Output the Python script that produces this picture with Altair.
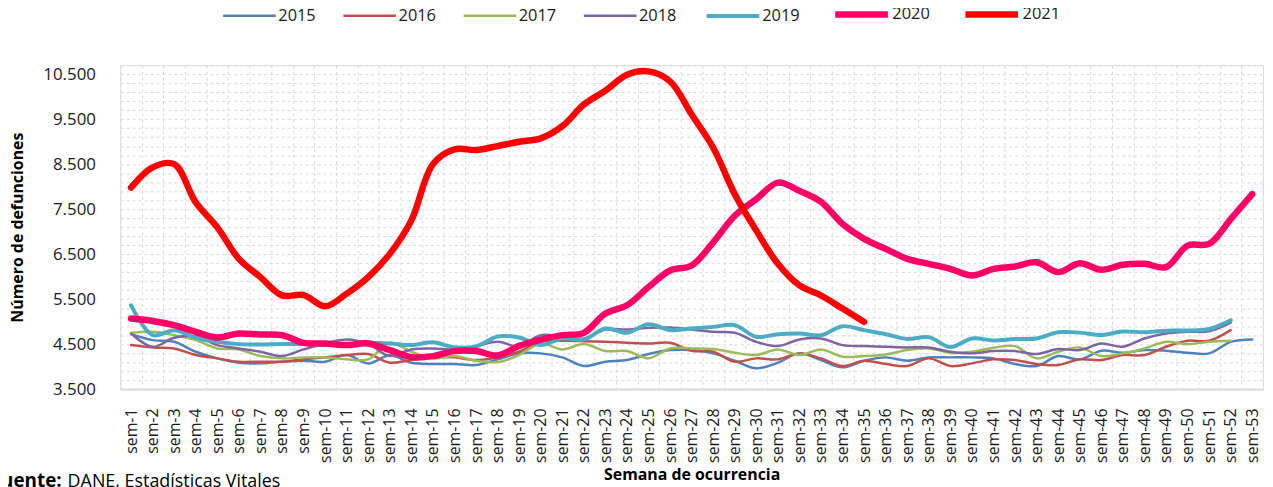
import altair as alt
import pandas as pd

weeks = [f"sem-{i}" for i in range(1, 54)]
years = ["2015", "2016", "2017", "2018", "2019", "2020", "2021"]
colors = ["#4F81BD", "#C0504D", "#9BBB59", "#8064A2", "#4BACC6", "#FF0066", "#FF0000"]
widths = [2.5, 2.5, 2.5, 2.5, 4, 6.5, 6.5]

v2015 = [4721, 4588, 4551, 4330, 4183, 4087, 4072, 4109, 4131, 4109,
         4257, 4070, 4250, 4087, 4058, 4058, 4035, 4160, 4294, 4294,
         4205, 4013, 4109, 4146, 4279, 4367, 4367, 4294, 4131, 3961,
         4087, 4294, 4146, 3984, 4131, 4205, 4131, 4205, 4205, 4205,
         4183, 4058, 4013, 4234, 4161, 4352, 4308, 4367, 4352, 4308,
         4294, 4551, 4603]
v2016 = [4478, 4426, 4404, 4257, 4183, 4109, 4109, 4109, 4161, 4205,
         4257, 4279, 4087, 4146, 4205, 4205, 4146, 4210, 4330, 4551,
         4574, 4566, 4551, 4530, 4515, 4530, 4352, 4330, 4109, 4183,
         4161, 4294, 4183, 4013, 4131, 4058, 4013, 4183, 4013, 4072,
         4161, 4146, 4058, 4035, 4161, 4146, 4257, 4257, 4441, 4574,
         4574, 4810]
v2017 = [4750, 4773, 4699, 4588, 4404, 4382, 4234, 4183, 4205, 4205,
         4161, 4161, 4530, 4330, 4183, 4234, 4131, 4100, 4257, 4515,
         4382, 4500, 4345, 4345, 4183, 4404, 4404, 4390, 4308, 4257,
         4382, 4257, 4382, 4220, 4234, 4270, 4367, 4404, 4308, 4330,
         4419, 4456, 4183, 4330, 4426, 4234, 4294, 4404, 4551, 4500,
         4551, 4574]
v2018 = [4736, 4441, 4640, 4677, 4478, 4404, 4330, 4234, 4382, 4515,
         4603, 4500, 4234, 4382, 4404, 4382, 4456, 4551, 4450, 4700,
         4662, 4625, 4824, 4824, 4861, 4868, 4824, 4773, 4751, 4551,
         4456, 4603, 4625, 4478, 4456, 4441, 4426, 4426, 4330, 4294,
         4345, 4345, 4279, 4390, 4367, 4515, 4441, 4625, 4736, 4773,
         4787, 4979]
v2019 = [5362, 4699, 4810, 4640, 4551, 4500, 4490, 4500, 4500, 4478,
         4500, 4530, 4515, 4478, 4540, 4430, 4450, 4670, 4647, 4478,
         4625, 4603, 4847, 4751, 4942, 4810, 4847, 4883, 4920, 4662,
         4721, 4736, 4699, 4898, 4810, 4720, 4614, 4655, 4434, 4625,
         4580, 4614, 4625, 4762, 4755, 4703, 4780, 4762, 4799, 4802,
         4836, 5031]
v2020 = [5068, 5015, 4920, 4772, 4648, 4736, 4714, 4699, 4529, 4515,
         4478, 4515, 4367, 4210, 4234, 4345, 4345, 4250, 4460, 4600,
         4700, 4750, 5179, 5362, 5768, 6137, 6248, 6763, 7353, 7722,
         8090, 7906, 7660, 7170, 6838, 6617, 6395, 6285, 6174, 6026,
         6174, 6225, 6320, 6100, 6298, 6152, 6263, 6285, 6210, 6690,
         6727, 7280, 7833]
v2021 = [7979, 8430, 8500, 7648, 7095, 6395, 5989, 5584, 5590, 5340,
         5621, 5989, 6506, 7250, 8500, 8829, 8813, 8902, 8997, 9072,
         9344, 9824, 10134, 10488, 10561, 10340, 9603, 8864, 7833, 7022,
         6285, 5805, 5580, 5289, 4994]

x_title = "Semana de ocurrencia"
y_title = "Número de defunciones"
source_label = "Fuente:"
source_text = "DANE, Estadísticas Vitales"

series = dict(zip(years, [v2015, v2016, v2017, v2018, v2019, v2020, v2021]))
rows = []
for yr, vals in series.items():
    for w, v in zip(weeks, vals):
        rows.append({"anio": yr, "semana": w, "valor": v})
df = pd.DataFrame(rows)

FONT = "Open Sans"
grid_vals = list(range(3500, 10701, 200))

leg = dict(
    title=None, orient="none", legendX=102, legendY=-81, direction="horizontal",
    symbolType="stroke", symbolSize=2809, labelFontSize=16.5, labelFont=FONT,
    labelColor="#1a1a1a", labelOffset=1, columnPadding=22,
)

lines = alt.Chart(df).mark_line(
    interpolate="catmull-rom", strokeCap="round", strokeJoin="round"
).encode(
    x=alt.X(
        "semana:O", sort=weeks, bandPosition=0.5,
        scale=alt.Scale(type="band", paddingInner=0, paddingOuter=0),
        axis=alt.Axis(
            title=x_title, titleFontSize=16, titleFontWeight="bold", titleFont=FONT,
            titleColor="#000000", titleY=86, titleBaseline="middle",
            labelAngle=270, labelFontSize=16, labelFont=FONT, labelColor="#1a1a1a",
            labelPadding=19, labelOverlap=False, ticks=False, tickSize=0,
            tickBand="extent", grid=True, gridDash=[3, 3], gridColor="#D9D9D9",
            domainColor="#D9D9D9", domainWidth=2,
        ),
    ),
    y=alt.Y(
        "valor:Q",
        scale=alt.Scale(domain=[3500, 10700], nice=False, zero=False),
        axis=alt.Axis(
            title=y_title, titleFontSize=16, titleFontWeight="bold", titleFont=FONT,
            titleColor="#000000", titleX=-103, titleY=163, titleBaseline="middle",
            values=grid_vals,
            labelExpr="(datum.value - 3500) % 1000 == 0 ? replace(format(datum.value, ','), ',', '.') : ''",
            labelFontSize=17, labelFont=FONT, labelColor="#1a1a1a", labelPadding=25,
            ticks=False, tickSize=0, domain=False,
            grid=True, gridDash=[3, 3], gridColor="#D9D9D9",
        ),
    ),
    color=alt.Color(
        "anio:O", scale=alt.Scale(domain=years, range=colors),
        legend=alt.Legend(**leg),
    ),
    strokeWidth=alt.StrokeWidth(
        "anio:O", scale=alt.Scale(type="ordinal", domain=years, range=widths),
        legend=alt.Legend(**leg),
    ),
)

src1 = alt.Chart(pd.DataFrame({"t": [source_label]})).mark_text(
    align="right", baseline="alphabetic", fontSize=19, fontWeight="bold", font=FONT, color="#000000"
).encode(x=alt.value(-59), y=alt.value(425), text="t:N")

src2 = alt.Chart(pd.DataFrame({"t": [source_text]})).mark_text(
    align="left", baseline="alphabetic", fontSize=18, font=FONT, color="#000000"
).encode(x=alt.value(-53), y=alt.value(425), text="t:N")

chart = alt.layer(lines, src1, src2).properties(
    width=1150, height=326,
    autosize=alt.AutoSizeParams(type="none"),
    padding={"left": 113, "top": 56, "right": 2, "bottom": 98},
).configure_view(stroke=None).configure(background="white")

chart.save("out.html", embed_options={"renderer": "svg", "actions": False})
